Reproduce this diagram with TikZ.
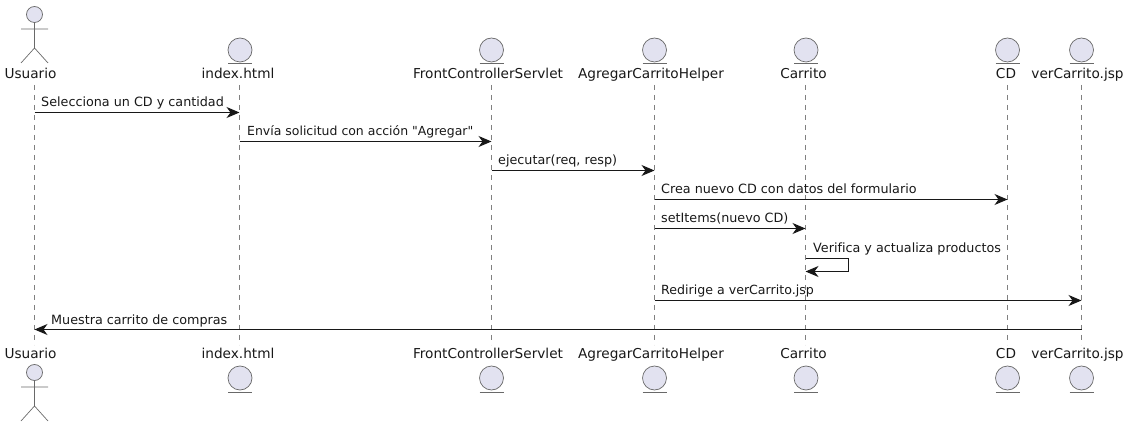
\documentclass[tikz,border=0pt]{standalone}
\usepackage{fontspec}
\setmainfont{DejaVu Sans}[Ligatures={TeXOff,NoCommon}]
\usetikzlibrary{arrows.meta}

\definecolor{partfill}{HTML}{E2E2F0}
\definecolor{partline}{HTML}{181818}
\tikzset{
  partname/.style={font=\fontsize{13.65}{14}\selectfont,inner sep=0pt,anchor=base,text=partline},
  msgtext/.style={font=\fontsize{12.75}{13}\selectfont,inner sep=0pt,anchor=base west,text=partline},
  partshape/.style={draw=partline!65,line width=.7pt,fill=partfill},
  entity/.style={partshape,circle,minimum size=24pt,inner sep=0pt},
  actorhead/.style={partshape,circle,minimum size=16pt,inner sep=0pt},
  lifeline/.style={draw=partline!55,line width=.7pt,dash pattern=on 5pt off 5pt},
  msg/.style={draw=partline,line width=1pt,-{Stealth[length=13pt,width=11pt,inset=4pt]}}
}

\begin{document}
\begin{tikzpicture}[x=1pt,y=-1pt]
      \useasboundingbox (0,0) rectangle (1129,427);

      % participants: lifeline x / label x / name / text
      \foreach \lx/\tx/\pname/\ptext in {
        34.5/30.5/usuario/Usuario,
        239.5/238/index/index.html,
        491.5/488/front/FrontControllerServlet,
        654.5/651/helper/AgregarCarritoHelper,
        805.5/803.5/carrito/Carrito,
        1007.5/1006/cd/CD,
        1081.5/1077.5/ver/verCarrito.jsp}{
        \node[partname] (\pname Top) at (\tx,79) {\ptext};
        \node[partname] (\pname Bot) at (\tx,359) {\ptext};
        \coordinate (\pname A) at (\lx,85);
        \coordinate (\pname B) at (\lx,345);
        \draw[lifeline] (\pname A) -- (\pname B);
      }

      % actor, top and bottom
      \foreach \yy/\pos in {0/Up,358/Low}{
        \node[actorhead] (head\pos) at (34.5,14.5+\yy) {};
        \coordinate (hip\pos) at (34.5,48+\yy);
        \draw[draw=partline!65,line width=.7pt] (head\pos.south) -- (hip\pos)
          (21,29+\yy) -- (48,29+\yy)
          (21,63+\yy) -- (hip\pos) -- (48,63+\yy);
      }

      % entities, top and bottom
      \foreach \lx/\pname in {240/index,491.5/front,654.5/helper,806/carrito,1007.5/cd,1081.5/ver}{
        \node[entity] (\pname EntUp) at (\lx,50) {};
        \draw[draw=partline!65,line width=.7pt] (\lx-12,63) -- (\lx+12,63);
        \node[entity] (\pname EntLow) at (\lx,378) {};
        \draw[draw=partline!65,line width=.7pt] (\lx-12,392) -- (\lx+12,392);
      }

      % messages
      \draw[msg] (usuarioA |- 0,112.5) -- (indexA |- 0,112.5);
      \node[msgtext] (msgA) at (41,107) {Selecciona un CD y cantidad};
      \draw[msg] (indexA |- 0,141.5) -- (frontA |- 0,141.5);
      \node[msgtext,font=\fontsize{12.47}{13}\selectfont] (msgB) at (247,136) {Envía solicitud con acción "Agregar"};
      \draw[msg] (frontA |- 0,170.5) -- (helperA |- 0,170.5);
      \node[msgtext] (msgC) at (498,165) {ejecutar(req, resp)};
      \draw[msg] (helperA |- 0,199.5) -- (cdA |- 0,199.5);
      \node[msgtext] (msgD) at (661,194) {Crea nuevo CD con datos del formulario};
      \draw[msg] (helperA |- 0,228.5) -- (carritoA |- 0,228.5);
      \node[msgtext] (msgE) at (661,223) {setItems(nuevo CD)};
      \draw[msg] (carritoA |- 0,258.5) -- (848.5,258.5) -- (848.5,271.5) -- (carritoA |- 0,271.5);
      \node[msgtext] (msgF) at (813,253) {Verifica y actualiza productos};
      \draw[msg] (helperA |- 0,300.5) -- (verA |- 0,300.5);
      \node[msgtext,font=\fontsize{12.6}{13}\selectfont] (msgG) at (661,295) {Redirige a verCarrito.jsp};
      \draw[msg] (verA |- 0,329.5) -- (usuarioA |- 0,329.5);
      \node[msgtext] (msgH) at (51,324) {Muestra carrito de compras};
\end{tikzpicture}
\end{document}
